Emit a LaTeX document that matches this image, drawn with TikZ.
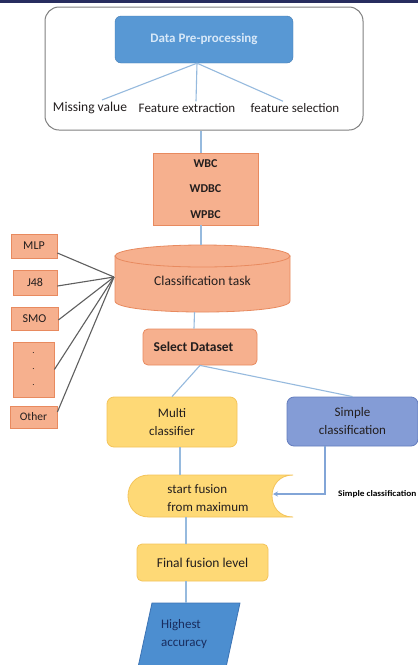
\documentclass[tikz,border=0pt]{standalone}
\usepackage{fontspec}
\setmainfont{Carlito}
\usetikzlibrary{calc,arrows.meta}
\definecolor{navyline}{RGB}{40,45,95}
\definecolor{dppfill}{RGB}{88,152,212}
\definecolor{dppdraw}{RGB}{70,125,180}
\definecolor{orfill}{RGB}{246,176,142}
\definecolor{ordraw}{RGB}{232,138,95}
\definecolor{yefill}{RGB}{254,217,118}
\definecolor{yedraw}{RGB}{244,196,90}
\definecolor{sifill}{RGB}{132,156,214}
\definecolor{sidraw}{RGB}{100,125,190}
\definecolor{acfill}{RGB}{76,142,208}
\definecolor{acdraw}{RGB}{60,115,180}
\definecolor{lnblue}{RGB}{150,186,222}
\definecolor{lngray}{RGB}{95,95,95}
\definecolor{txt}{RGB}{35,30,30}
\tikzset{
  lbl/.style={font=\fontsize{13}{15}\selectfont, text=txt, inner sep=0pt},
  orbox/.style={draw=ordraw, fill=orfill, line width=0.8pt, inner sep=0pt, text=txt},
  yebox/.style={draw=yedraw, fill=yefill, line width=0.8pt, rounded corners=7pt, inner sep=0pt, text=txt},
  conn/.style={draw=lnblue, line width=1.1pt},
  gconn/.style={draw=lngray, line width=1.1pt},
}
\begin{document}
\begin{tikzpicture}[x=1pt,y=-1pt]
\useasboundingbox (0,0) rectangle (418,665);
\clip (0,0) rectangle (418,665);
\fill[white] (0,0) rectangle (418,665);
% top rule
\coordinate (tl) at (0,1.5);
\coordinate (tr) at (418,1.5);
\draw[navyline, line width=2.2pt] (tl) -- (tr);

% outer box
\node[draw=gray, line width=1pt, rounded corners=14pt, minimum width=318pt, minimum height=123pt, inner sep=0pt] (outer) at (204,68.5) {};
\node[draw=dppdraw, fill=dppfill, rounded corners=6pt, minimum width=178pt, minimum height=47pt, inner sep=0pt,
      font=\bfseries\fontsize{13}{15}\selectfont, text={rgb,255:red,215;green,232;blue,248}] (dpp) at (204,39.5) {Data Pre-processing};
\node[lbl, font=\fontsize{13.5}{16}\selectfont] (mv) at (90,108) {Missing value};
\node[lbl] (fe) at (187,108) {Feature extraction};
\node[lbl] (fs) at (295,108) {feature selection};
\coordinate (j) at ([xshift=-7pt]dpp.south);
\draw[conn] (j) -- ([xshift=12pt,yshift=2pt]mv.north);
\draw[conn] (j) -- ([xshift=9pt,yshift=2pt]fe.north);
\draw[conn] (j) -- ([xshift=-12pt,yshift=2pt]fs.north);

% WBC box
\node[orbox, minimum width=105pt, minimum height=72pt, align=center,
      font=\bfseries\fontsize{12}{25.5}\selectfont] (wbc) at (205.5,189) {WBC\\WDBC\\WPBC};
\draw[conn] ([xshift=-3pt]outer.south) -- ([xshift=-4.5pt]wbc.north);

% cylinder
\node[minimum width=175pt, minimum height=67pt, inner sep=0pt] (cyl) at (202.5,278.5) {};
\filldraw[draw=ordraw, fill=orfill, line width=0.8pt] (115,256) -- (115,301) .. controls (115,315.7) and (290,315.7) .. (290,301) -- (290,256) -- cycle;
\filldraw[draw=ordraw, fill=orfill, line width=0.8pt] (202.5,256) ellipse [x radius=87.5pt, y radius=11pt];
\node[lbl, font=\fontsize{13.5}{16}\selectfont] (clstxt) at (202.5,281) {Classification task};
\draw[conn] ([xshift=-4.5pt]wbc.south) -- ([xshift=-1.5pt]cyl.north);
\coordinate (cylL) at (114,277);

% left boxes
\node[orbox, minimum width=46pt, minimum height=24pt, font=\fontsize{12}{14}\selectfont] (mlp) at (34,246) {MLP};
\node[orbox, minimum width=44pt, minimum height=25pt, font=\fontsize{12}{14}\selectfont] (j48) at (35,282.5) {J48};
\node[orbox, minimum width=47pt, minimum height=23pt, font=\fontsize{12}{14}\selectfont] (smo) at (34.5,318.5) {SMO};
\node[orbox, minimum width=41pt, minimum height=55pt, align=center, font=\fontsize{9}{16}\selectfont] (dots) at (33.5,369.5) {.\\.\\.};
\node[orbox, minimum width=47pt, minimum height=22pt, font=\fontsize{11.5}{14}\selectfont] (other) at (33.5,417) {Other};
\draw[gconn] ([yshift=-7pt]mlp.east) -- (cylL);
\draw[gconn] ([yshift=-3.5pt]j48.east) -- (cylL);
\draw[gconn] ([yshift=-1.5pt]smo.east) -- (cylL);
\draw[gconn] (dots.east) -- (cylL);
\draw[gconn] ([yshift=5pt]other.east) -- (cylL);

% select dataset
\node[orbox, rounded corners=5pt, minimum width=114pt, minimum height=36pt] (sel) at (200,347) {};
\node[font=\bfseries\fontsize{13.5}{16}\selectfont, text=txt, inner sep=0pt] (seltxt) at (193.5,347) {Select Dataset};
\draw[conn] ([xshift=-8pt]cyl.south) -- ([xshift=-6pt]sel.north);

% multi / simple
\node[yebox, minimum width=130pt, minimum height=50pt, align=center, font=\fontsize{13}{18}\selectfont] (multi) at (172,422) {Multi\\classifier};
\node[draw=sidraw, fill=sifill, line width=0.8pt, rounded corners=7pt, inner sep=0pt, text=txt,
      minimum width=131pt, minimum height=49pt, align=center, font=\fontsize{13}{18}\selectfont] (simple) at (352.5,421.5) {Simple\\classification};
\draw[conn] (sel.south) -- (multi.north);
\draw[conn] (sel.south) -- (simple.north);

% fusion (stored data shape)
\node[minimum width=165pt, minimum height=42pt, inner sep=0pt] (fusion) at (210.5,496) {};
\filldraw[draw=yedraw, fill=yefill, line width=0.8pt] (149,475) -- (293,475) .. controls (265,475) and (265,517) .. (293,517) -- (149,517) .. controls (121,517) and (121,475) .. (149,475) -- cycle;
\node[lbl, align=left, font=\fontsize{13}{18}\selectfont] (fustxt) at (208,498) {start fusion\\from maximum};
\coordinate (fin) at (273,494);
\draw[conn] ([xshift=8pt]multi.south) -- ([xshift=8pt]multi.south |- fusion.north);
\draw[conn, -{Stealth[length=5pt,width=5pt]}, draw={rgb,255:red,130;green,165;blue,215}] ([xshift=-27.5pt]simple.south) |- (fin);
\node[anchor=west, inner sep=0pt, text=black] (sclab) at (338,494.5) {\scalebox{1.1}[1]{\bfseries\fontsize{8.5}{9}\selectfont Simple classification}};

% final fusion level
\node[yebox, rounded corners=5pt, minimum width=131pt, minimum height=37pt, font=\fontsize{13.5}{16}\selectfont] (final) at (202.5,562.5) {Final fusion level};
\draw[conn] ([xshift=-24.5pt]fusion.south) -- ([xshift=-16.5pt]final.north);

% highest accuracy parallelogram
\filldraw[draw=acdraw, fill=acfill, line width=0.8pt] (152,603) -- (240,603) -- (225,672) -- (137,672) -- cycle;
\coordinate (acctop) at (186,603);
\node[lbl, align=left, font=\fontsize{13}{18}\selectfont, text={rgb,255:red,25;green,45;blue,95}] (acc) at (184,634) {Highest\\accuracy};
\draw[conn] ([xshift=-16.5pt]final.south) -- (acctop);
\end{tikzpicture}
\end{document}
